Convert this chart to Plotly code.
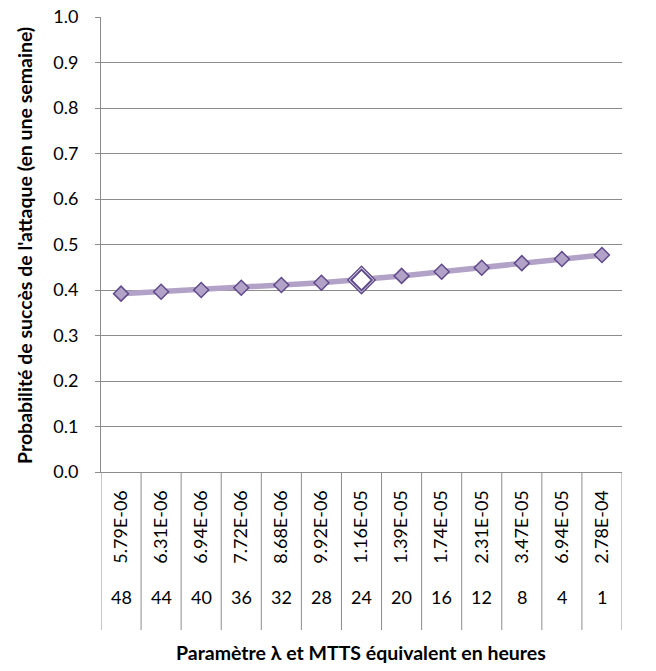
import plotly.graph_objects as go

lambda_labels = ["5.79E-06", "6.31E-06", "6.94E-06", "7.72E-06", "8.68E-06", "9.92E-06",
                 "1.16E-05", "1.39E-05", "1.74E-05", "2.31E-05", "3.47E-05", "6.94E-05", "2.78E-04"]
mtts_hours = ["48", "44", "40", "36", "32", "28", "24", "20", "16", "12", "8", "4", "1"]
probability = [0.392, 0.396, 0.400, 0.405, 0.411, 0.416, 0.422, 0.431, 0.440, 0.449, 0.459, 0.468, 0.477]
highlight_index = 6
y_ticks = [0.0, 0.1, 0.2, 0.3, 0.4, 0.5, 0.6, 0.7, 0.8, 0.9, 1.0]

FONT = "Lato"
LINE_C = "#B3A2C7"
MARK_EDGE = "#5F4A8B"
GRID_C = "#8C8C8C"

# page has an 8px body margin: figure is laid out in page coordinates shifted by OFF
OFF = 8
PAGE_W, PAGE_H = 656, 671
plot_left, plot_right = 101, 622
plot_top, plot_bottom = 17, 472
ph = plot_bottom - plot_top
pw = plot_right - plot_left

def py(px):
    return (plot_bottom - px) / ph

def pxp(px):
    return (px - plot_left) / pw

fig = go.Figure()
fig.add_trace(go.Scatter(
    x=lambda_labels, y=probability, mode="lines+markers",
    line=dict(color=LINE_C, width=5.5),
    marker=dict(symbol="diamond", size=11.5, color=LINE_C, line=dict(color=MARK_EDGE, width=1.5)),
    showlegend=False, hoverinfo="skip"))
# highlighted point: double outline, white fill
fig.add_trace(go.Scatter(
    x=[lambda_labels[highlight_index]], y=[probability[highlight_index]], mode="markers",
    marker=dict(symbol="diamond", size=21, color="white", line=dict(color=MARK_EDGE, width=1.5)),
    showlegend=False, hoverinfo="skip"))
fig.add_trace(go.Scatter(
    x=[lambda_labels[highlight_index]], y=[probability[highlight_index]], mode="markers",
    marker=dict(symbol="diamond", size=16, color="white", line=dict(color=MARK_EDGE, width=2)),
    showlegend=False, hoverinfo="skip"))

shapes = []
for i in range(len(lambda_labels) + 1):
    shapes.append(dict(type="line", xref="x", yref="paper", x0=i - 0.5, x1=i - 0.5,
                       y0=0, y1=py(630), line=dict(color=GRID_C, width=1)))

annotations = []
for i, h in enumerate(mtts_hours):
    annotations.append(dict(x=i, y=py(597), xref="x", yref="paper", text=h, showarrow=False,
                            font=dict(family=FONT, size=18, color="black"),
                            xanchor="center", yanchor="middle"))
annotations.append(dict(x=pxp(361), y=py(652), xref="paper", yref="paper",
                        text="<b>Paramètre λ et MTTS équivalent en heures</b>", showarrow=False,
                        font=dict(family=FONT, size=19.5, color="black"),
                        xanchor="center", yanchor="middle"))
annotations.append(dict(x=pxp(24), y=py(246), xref="paper", yref="paper",
                        text="<b>Probabilité de succès de l'attaque (en une semaine)</b>", showarrow=False,
                        textangle=-90,
                        font=dict(family=FONT, size=19.5, color="black"),
                        xanchor="center", yanchor="middle"))

fig.update_layout(
    width=PAGE_W - OFF, height=PAGE_H - OFF,
    margin=dict(l=plot_left - OFF, r=PAGE_W - plot_right, t=plot_top - OFF,
                b=PAGE_H - plot_bottom, autoexpand=False),
    paper_bgcolor="white", plot_bgcolor="white",
    shapes=shapes, annotations=annotations,
    xaxis=dict(type="category", range=[-0.5, len(lambda_labels) - 0.5],
               showgrid=False, showline=True, linecolor=GRID_C, linewidth=1,
               tickangle=-90, ticks="", ticklabelstandoff=10,
               tickfont=dict(family=FONT, size=18, color="black"), automargin=False),
    yaxis=dict(range=[0, 1.0], tickvals=y_ticks, ticktext=[f"{v:.1f}" for v in y_ticks],
               showgrid=True, gridcolor=GRID_C, gridwidth=1, zeroline=False,
               showline=True, linecolor=GRID_C, linewidth=1,
               ticks="outside", ticklen=5, tickcolor=GRID_C, ticklabelstandoff=13,
               ticklabeloverflow="allow",
               tickfont=dict(family=FONT, size=18, color="black"), automargin=False),
)

fig.write_html("out.html")
